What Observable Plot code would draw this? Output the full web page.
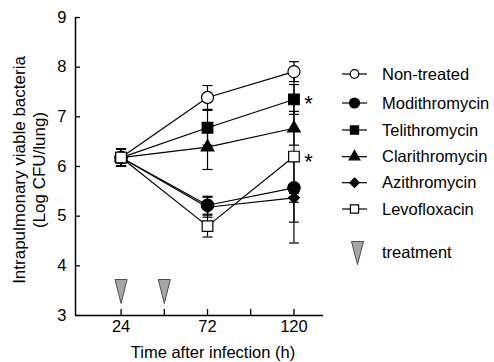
<!DOCTYPE html>
<html><head><meta charset="utf-8">
<script src="https://cdn.jsdelivr.net/npm/d3@7"></script>
<script src="https://cdn.jsdelivr.net/npm/@observablehq/plot@0.6"></script>
<style>body{margin:0;background:#fff;}</style>
</head><body><div id="chart"></div>
<script>
// ---- data ----
const hours = [24, 72, 120];
const seriesNames = ["Non-treated", "Modithromycin", "Telithromycin", "Clarithromycin", "Azithromycin", "Levofloxacin"];
const nonTreatedMean = [6.18, 7.39, 7.91];
const nonTreatedErr  = [0.17, 0.24, 0.20];
const modithroMean   = [6.18, 5.22, 5.57];
const modithroErr    = [0.17, 0.18, 0.69];
const telithroMean   = [6.18, 6.78, 7.35];
const telithroErr    = [0.17, 0.35, 0.30];
const clarithroMean  = [6.18, 6.39, 6.77];
const clarithroErr   = [0.17, 0.45, 0.34];
const azithroMean    = [6.18, 5.18, 5.37];
const azithroErr     = [0.17, 0.20, 0.09];
const levoMean       = [6.18, 4.80, 6.20];
const levoErr        = [0.17, 0.22, 1.74];
const significant = ["Telithromycin", "Levofloxacin"]; // asterisks at 120 h
const treatmentHours = [24, 48];
const xTicks = [24, 48, 72, 96, 120];
const xTickLabels = [24, 72, 120];
const yTicks = [3, 4, 5, 6, 7, 8, 9];

const means = [nonTreatedMean, modithroMean, telithroMean, clarithroMean, azithroMean, levoMean];
const errs = [nonTreatedErr, modithroErr, telithroErr, clarithroErr, azithroErr, levoErr];
const symbols = ["circle", "circle", "square", "triangle", "diamond2", "square"];
const fills = ["white", "black", "black", "black", "black", "white"];
const radii = [6, 6.2, 6, 4.7, 4.9, 6];

const rows = [];
seriesNames.forEach((s, i) => hours.forEach((h, j) => rows.push({series: s, idx: i, hour: h, mean: means[i][j], err: errs[i][j]})));

const capSymbol = {draw(ctx) { ctx.moveTo(-5, 0); ctx.lineTo(5, 0); }};
const invTri = {draw(ctx) { ctx.moveTo(-6, -12); ctx.lineTo(6, -12); ctx.lineTo(0, 12); ctx.closePath(); }};

const xMin = -1.3, xMax = 136.4;
const font = "Liberation Sans, Arial, Helvetica, sans-serif";

const marks = [
  Plot.ruleY([3], {stroke: "black", strokeWidth: 1.5}),
  Plot.ruleX([xMin], {stroke: "black", strokeWidth: 1.5}),
  Plot.axisY({ticks: yTicks, tickFormat: d => String(d), tickSize: -5, fontSize: 16.5, label: null, strokeWidth: 1.3}),
  Plot.axisX({ticks: xTicks, tickFormat: d => xTickLabels.includes(d) ? String(d) : "", tickSize: -6, tickPadding: 11, fontSize: 16.5, label: null, strokeWidth: 1.3}),
  Plot.ruleX(rows, {x: "hour", y1: d => d.mean - d.err, y2: d => d.mean + d.err, stroke: "black", strokeWidth: 1.2}),
  Plot.dot(rows, {x: "hour", y: d => d.mean + d.err, symbol: capSymbol, fill: "none", stroke: "black", strokeWidth: 1.2}),
  Plot.dot(rows, {x: "hour", y: d => d.mean - d.err, symbol: capSymbol, fill: "none", stroke: "black", strokeWidth: 1.2}),
  Plot.line(rows, {x: "hour", y: "mean", z: "series", stroke: "black", strokeWidth: 1.2}),
  ...seriesNames.map((s, i) => Plot.dot(rows.filter(d => d.idx === i), {x: "hour", y: "mean", symbol: symbols[i], r: radii[i], fill: fills[i], stroke: "black", strokeWidth: 1.2})),
  Plot.text(rows.filter(d => d.hour === 120 && significant.includes(d.series)), {x: "hour", y: "mean", text: () => "*", dx: 14.5, dy: 5, fontSize: 22, fill: "black"}),
  Plot.dot(treatmentHours, {x: d => d, frameAnchor: "bottom", dy: -24, symbol: invTri, fill: "#a6a6a6", stroke: "#4d4d4d", strokeWidth: 1})
];

const svgNode = Plot.plot({
  width: 494, height: 362,
  marginLeft: 75, marginRight: 171, marginTop: 17, marginBottom: 47,
  x: {domain: [xMin, xMax]},
  y: {domain: [3, 9]},
  style: {fontFamily: font, fontSize: "16px", color: "black", background: "white"},
  marks
});
document.getElementById("chart").appendChild(svgNode);

// ---- axis titles and legend ----
const svg = d3.select(svgNode);
svg.append("text").attr("x", 213).attr("y", 358).attr("text-anchor", "middle")
  .attr("font-family", font).attr("font-size", 16.5).attr("fill", "black").text("Time after infection (h)");
const yLab = ["Intrapulmonary viable bacteria", "(Log CFU/lung)"];
[19, 39].forEach((cx, i) => {
  svg.append("text").attr("transform", `translate(${cx},170) rotate(-90)`).attr("text-anchor", "middle")
    .attr("dy", "0.35em").attr("font-family", font).attr("font-size", 17).attr("fill", "black").text(yLab[i]);
});

const legendY = [74, 103, 130, 156.7, 182.7, 209];
const legendR = [4.3, 5, 4.6, 4, 4.2, 4.6];
const d3sym = {circle: d3.symbolCircle, square: d3.symbolSquare, triangle: d3.symbolTriangle, diamond2: d3.symbolDiamond2};
const lg = svg.append("g").attr("text-anchor", "start");
seriesNames.forEach((s, i) => {
  const y = legendY[i];
  lg.append("line").attr("x1", 342).attr("x2", 367).attr("y1", y).attr("y2", y).attr("stroke", "black").attr("stroke-width", 1.2);
  lg.append("path").attr("transform", `translate(354.5,${y})`)
    .attr("d", d3.symbol(d3sym[symbols[i]], Math.PI * legendR[i] * legendR[i])())
    .attr("fill", fills[i]).attr("stroke", "black").attr("stroke-width", 1.2);
  lg.append("text").attr("x", 382).attr("y", y).attr("dy", "0.35em").attr("text-anchor", "start").attr("font-family", font).attr("font-size", 16.5).attr("fill", "black").text(s);
});
lg.append("path").attr("transform", "translate(357.5,253)").attr("d", "M-6,-11.5L6,-11.5L0,11.5Z")
  .attr("fill", "#a6a6a6").attr("stroke", "#4d4d4d").attr("stroke-width", 1);
lg.append("text").attr("x", 382).attr("y", 252).attr("dy", "0.35em").attr("text-anchor", "start").attr("font-family", font).attr("font-size", 16.5).attr("fill", "black").text("treatment");
</script>
</body></html>
